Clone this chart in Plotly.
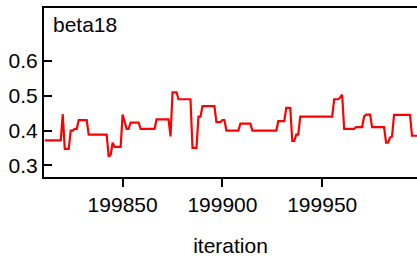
import plotly.graph_objects as go

title_text = "beta18"
x_title = "iteration"
first_iteration = 199811
values = [
    0.372, 0.372, 0.372, 0.372, 0.372, 0.372, 0.372, 0.372, 0.372, 0.447,
    0.347, 0.347, 0.347, 0.400, 0.400, 0.405, 0.405, 0.430, 0.430, 0.430,
    0.430, 0.430, 0.388, 0.388, 0.388, 0.388, 0.388, 0.388, 0.388, 0.388,
    0.388, 0.388, 0.325, 0.330, 0.365, 0.353, 0.353, 0.353, 0.353, 0.446,
    0.425, 0.405, 0.405, 0.423, 0.423, 0.423, 0.423, 0.423, 0.405, 0.405,
    0.405, 0.405, 0.405, 0.405, 0.405, 0.405, 0.432, 0.432, 0.432, 0.432,
    0.432, 0.432, 0.432, 0.383, 0.510, 0.510, 0.510, 0.490, 0.490, 0.490,
    0.490, 0.490, 0.490, 0.490, 0.350, 0.350, 0.350, 0.440, 0.440, 0.470,
    0.470, 0.470, 0.470, 0.470, 0.470, 0.470, 0.424, 0.424, 0.424, 0.430,
    0.430, 0.400, 0.400, 0.400, 0.400, 0.400, 0.400, 0.400, 0.420, 0.420,
    0.420, 0.420, 0.420, 0.420, 0.400, 0.400, 0.400, 0.400, 0.400, 0.400,
    0.400, 0.400, 0.400, 0.400, 0.400, 0.400, 0.400, 0.427, 0.427, 0.427,
    0.427, 0.465, 0.465, 0.465, 0.370, 0.370, 0.388, 0.388, 0.440, 0.440,
    0.440, 0.440, 0.440, 0.440, 0.440, 0.440, 0.440, 0.440, 0.440, 0.440,
    0.440, 0.440, 0.440, 0.440, 0.440, 0.490, 0.490, 0.490, 0.495, 0.503,
    0.405, 0.405, 0.405, 0.405, 0.405, 0.405, 0.410, 0.410, 0.410, 0.410,
    0.440, 0.446, 0.446, 0.446, 0.410, 0.410, 0.410, 0.410, 0.410, 0.410,
    0.410, 0.365, 0.365, 0.380, 0.383, 0.445, 0.445, 0.445, 0.445, 0.445,
    0.445, 0.445, 0.445, 0.445, 0.385, 0.385, 0.385, 0.385,
]
iterations = list(range(first_iteration, first_iteration + len(values)))

x_tickvals = [199850, 199900, 199950]
y_tickvals = [0.3, 0.4, 0.5, 0.6]
y_ticktext = ["0.3", "0.4", "0.5", "0.6"]

FONT = "Liberation Sans, Arial, sans-serif"

fig = go.Figure()
fig.add_trace(go.Scatter(
    x=iterations, y=values, mode="lines",
    line=dict(color="#ff0000", width=2.2),
    showlegend=False, hoverinfo="skip",
))

fig.update_layout(
    width=417, height=258,
    margin=dict(l=44, r=0, t=8, b=81, autoexpand=False),
    paper_bgcolor="white", plot_bgcolor="white",
    font=dict(family=FONT, size=21, color="black"),
    annotations=[dict(
        text=title_text, xref="paper", yref="paper",
        x=0.02, y=1, xanchor="left", yanchor="top", yshift=-3,
        showarrow=False, font=dict(family=FONT, size=21, color="black"),
    )],
)
fig.update_xaxes(
    range=[199810.6, 199997.5], automargin=False,
    tickvals=x_tickvals, ticktext=[str(v) for v in x_tickvals],
    ticks="outside", ticklen=8, tickwidth=2, tickcolor="black",
    showline=True, linewidth=2, linecolor="black", mirror=True,
    showgrid=False, zeroline=False,
    title=dict(text=x_title, font=dict(family=FONT, size=21), standoff=23),
    tickfont=dict(family=FONT, size=21),
)
fig.update_yaxes(
    range=[0.2664, 0.7524], automargin=False,
    tickvals=y_tickvals, ticktext=y_ticktext,
    ticks="inside", ticklen=8, tickwidth=2, tickcolor="black",
    showline=True, linewidth=2, linecolor="black", mirror=False,
    showgrid=False, zeroline=False,
    tickfont=dict(family=FONT, size=21),
)

fig.write_html(
    "out.html",
    config={"displayModeBar": False},
    post_script="document.body.style.margin='0';document.body.style.overflow='hidden';",
)
